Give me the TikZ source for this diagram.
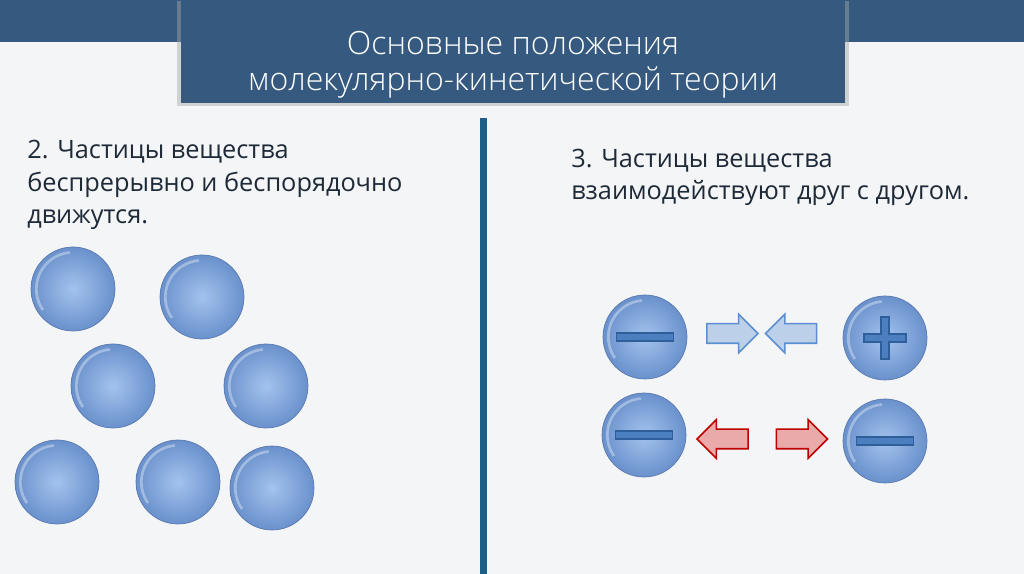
\documentclass[tikz,border=0pt]{standalone}
\usepackage{fontspec}
\setmainfont{Open Sans}
\newfontfamily\titlefont{Open Sans Light}
\usepackage{tikz}
\usetikzlibrary{shapes.arrows, shadows}
\definecolor{pagegray}{HTML}{F4F5F6}
\definecolor{headblue}{HTML}{365A7F}
\definecolor{ruleblue}{HTML}{1F5C87}
\definecolor{textdark}{HTML}{1E2A38}
\definecolor{ballin}{HTML}{A3C3EE}
\definecolor{ballout}{HTML}{6A91CC}
\definecolor{ballrim}{HTML}{5878AE}
\definecolor{barfill}{HTML}{4C7FBF}
\definecolor{barrim}{HTML}{2F5F9A}
\definecolor{pullfill}{HTML}{BCD0EA}
\definecolor{pulldraw}{HTML}{5B8FD2}
\definecolor{pushfill}{HTML}{EAAAAA}
\definecolor{pushdraw}{HTML}{C00000}

\tikzset{
  ball/.style={circle, minimum size=63pt, inner sep=0pt, draw=ballrim, line width=0.5pt,
    inner color=ballin, outer color=ballout,
    path picture={
      \draw[white, opacity=0.35, line width=2pt]
        ([shift={(215:27.5pt)}]path picture bounding box.center)
        arc[start angle=215, end angle=95, radius=27.5pt];
    }},
  minusbar/.style={rectangle, minimum width=42.75pt, minimum height=6pt, inner sep=0pt,
    fill=barfill, draw=barrim, line width=0.8pt},
  plusbar/.style={fill=barfill, draw=barrim, line width=0.8pt},
  blockarrow/.style={single arrow, inner xsep=0pt, inner ysep=6.75pt, minimum height=38.25pt,
    single arrow head extend=7.1pt, single arrow tip angle=90, line width=1.2pt},
  pull/.style={blockarrow, fill=pullfill, draw=pulldraw},
  push/.style={blockarrow, fill=pushfill, draw=pushdraw},
  bodytext/.style={anchor=base west, inner sep=0pt, align=left, text=textdark,
    font=\fontsize{19}{24.4}\selectfont},
}

\begin{document}
\begin{tikzpicture}[x=0.75pt, y=0.75pt]
  % page and bounding box
  \fill[pagegray] (0,0) rectangle (1024,574);
  \useasboundingbox (0,0) rectangle (1024,574);

  % header band and title
  \fill[headblue] (0,532) rectangle (1024,574);
  \node[fill=headblue, minimum width=498pt, minimum height=77.25pt, inner sep=0pt,
    general shadow={fill=black!35, opacity=0.45, shadow scale=1.012, shadow yshift=-1.5pt}]
    (titlebox) at (513,522.5) {};
  \node[text=white, align=center, font=\titlefont\fontsize{24}{27}\selectfont]
    (title) at (513,509.5) {Основные положения\\молекулярно-кинетической теории};

  % divider
  \draw[ruleblue, line width=5.25pt] (483.5,456) -- (483.5,0);

  % left half
  \node[bodytext] (left) at (27,350)
    {2. Частицы вещества\\беспрерывно и беспорядочно\\движутся.};
  \node[ball] (m1) at (73,285) {};
  \node[ball] (m2) at (202,277) {};
  \node[ball] (m3) at (113,188) {};
  \node[ball] (m4) at (266,188) {};
  \node[ball] (m5) at (57,92) {};
  \node[ball] (m6) at (178,92) {};
  \node[ball] (m7) at (272,86) {};

  % right half
  \node[bodytext] (right) at (571,374)
    {3. Частицы вещества\\взаимодействуют друг с другом.};
  \node[ball] (q1) at (645,237) {};
  \node[ball] (q2) at (885,236) {};
  \node[ball] (q3) at (644,139) {};
  \node[ball] (q4) at (885,133) {};
  \node[minusbar] at (q1) {};
  \node[minusbar] at (q3) {};
  \node[minusbar] at (q4) {};
  \draw[plusbar, shift={(q2)}] (-4,-21) -- (4,-21) -- (4,-4) -- (21,-4) -- (21,4) -- (4,4)
    -- (4,21) -- (-4,21) -- (-4,4) -- (-21,4) -- (-21,-4) -- (-4,-4) -- cycle;

  \node[pull] (a1) at (727.5,240.5) {};
  \node[pull, shape border rotate=180] (a2) at (796,240.5) {};
  \node[push, shape border rotate=180] (a3) at (727.5,135) {};
  \node[push] (a4) at (797,135) {};
\end{tikzpicture}
\end{document}
